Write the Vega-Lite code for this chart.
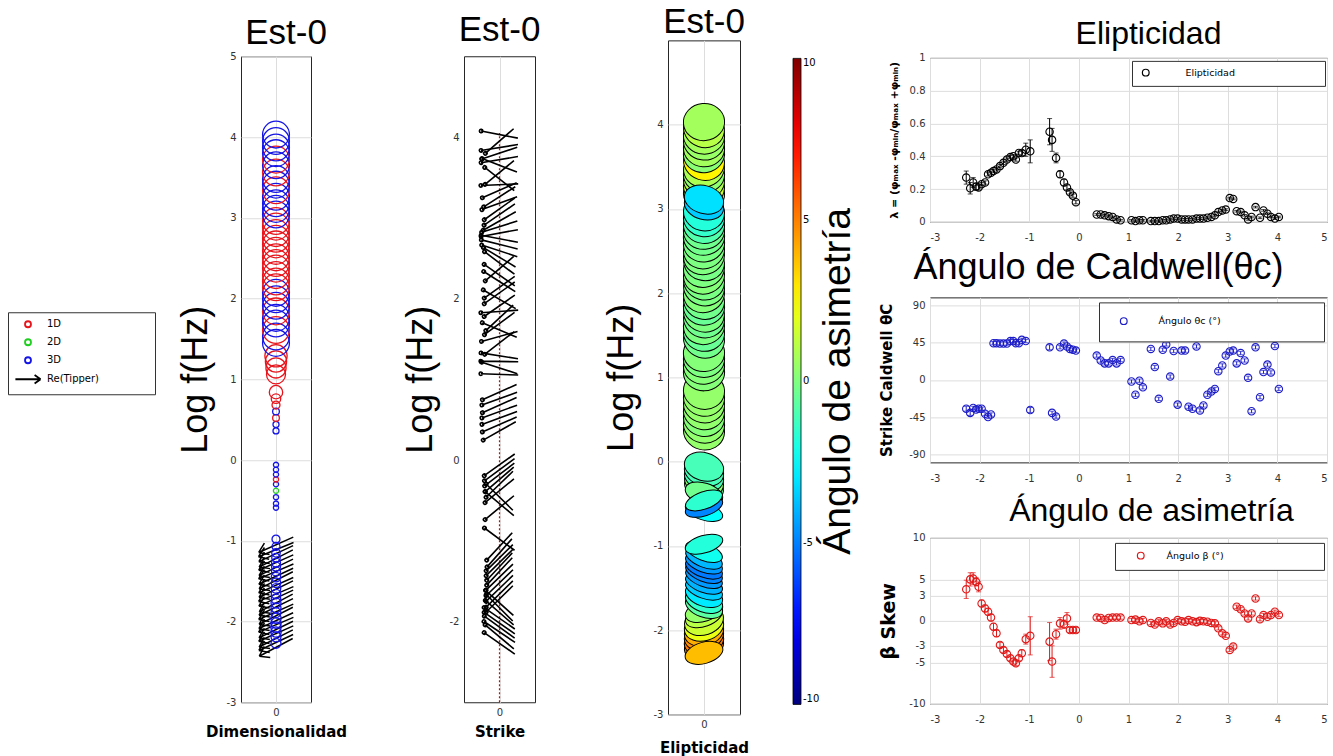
{
"$schema":"https://vega.github.io/schema/vega-lite/v6.json",
"background":"white",
"padding":{"left":7,"top":4,"right":0,"bottom":0},
"config":{
 "font":"DejaVu Sans",
 "view":{"stroke":"#262626","strokeWidth":1},
 "axis":{"labelFont":"DejaVu Sans","labelFontSize":10,"labelColor":"#333333","gridColor":"#dddddd","gridWidth":1,"ticks":false,"domain":false,"labelPadding":5,"titleColor":"#000000"},
 "title":{"font":"Liberation Sans","fontWeight":"normal","color":"#000000","fontSize":35},
 "legend":{"labelFont":"DejaVu Sans","labelColor":"#000000","labelLimit":400},
 "point":{"opacity":1}
},
"datasets":{
 "mt":[
{"p":-2.27,"dim":"3D","amp":0.11,"e":0.27,"eErr":0.04,"s":-35,"sErr":3,"b":3.8,"bErr":1.1},
{"p":-2.19,"dim":"3D","amp":0.11,"e":0.205,"eErr":0.035,"s":-40,"sErr":3,"b":5.0,"bErr":0.8},
{"p":-2.13,"dim":"3D","amp":0.12,"e":0.24,"eErr":0.03,"s":-34,"sErr":2,"b":5.1,"bErr":0.7},
{"p":-2.07,"dim":"3D","amp":0.12,"e":0.215,"eErr":0.02,"s":-36,"sErr":2,"b":4.7,"bErr":0.5},
{"p":-2.02,"dim":"3D","amp":0.12,"e":0.21,"eErr":0.015,"s":-35,"sErr":2,"b":4.1,"bErr":0.6},
{"p":-1.96,"dim":"3D","amp":0.12,"e":0.23,"eErr":0.01,"s":-35,"sErr":2,"b":2.1,"bErr":0.4},
{"p":-1.89,"dim":"3D","amp":0.11,"e":0.24,"eErr":0.01,"s":-41,"sErr":2,"b":1.5,"bErr":0.4},
{"p":-1.83,"dim":"3D","amp":0.11,"e":0.29,"eErr":0.01,"s":-45,"sErr":2,"b":1.1,"bErr":0.4},
{"p":-1.77,"dim":"3D","amp":0.11,"e":0.3,"eErr":0.01,"s":-42,"sErr":2,"b":0.4,"bErr":0.4},
{"p":-1.72,"dim":"3D","amp":0.1,"e":0.31,"eErr":0.01,"s":44.5,"sErr":2,"b":-0.7,"bErr":0.4},
{"p":-1.66,"dim":"3D","amp":0.1,"e":0.32,"eErr":0.01,"s":44.5,"sErr":2,"b":-1.5,"bErr":0.4},
{"p":-1.59,"dim":"3D","amp":0.1,"e":0.34,"eErr":0.01,"s":44,"sErr":2,"b":-2.9,"bErr":0.3},
{"p":-1.52,"dim":"3D","amp":0.1,"e":0.36,"eErr":0.01,"s":44,"sErr":2,"b":-3.5,"bErr":0.3},
{"p":-1.45,"dim":"3D","amp":0.1,"e":0.38,"eErr":0.01,"s":44,"sErr":2,"b":-4.0,"bErr":0.3},
{"p":-1.38,"dim":"3D","amp":0.09,"e":0.395,"eErr":0.01,"s":47,"sErr":2,"b":-4.5,"bErr":0.3},
{"p":-1.32,"dim":"3D","amp":0.09,"e":0.4,"eErr":0.01,"s":47,"sErr":2,"b":-4.9,"bErr":0.3},
{"p":-1.27,"dim":"3D","amp":0.09,"e":0.38,"eErr":0.01,"s":44.5,"sErr":2,"b":-5.1,"bErr":0.3},
{"p":-1.21,"dim":"3D","amp":0.08,"e":0.42,"eErr":0.01,"s":44.5,"sErr":2,"b":-4.5,"bErr":0.3},
{"p":-1.15,"dim":"3D","amp":0.08,"e":0.42,"eErr":0.015,"s":48.5,"sErr":2,"b":-3.9,"bErr":0.4},
{"p":-1.07,"dim":"3D","amp":0.07,"e":0.44,"eErr":0.04,"s":47,"sErr":2,"b":-2.2,"bErr":0.6},
{"p":-0.98,"dim":"3D","amp":0.07,"e":0.43,"eErr":0.07,"s":-36.5,"sErr":3,"b":-1.8,"bErr":2.3},
{"p":-0.59,"dim":"3D","amp":0.03,"e":0.55,"eErr":0.08,"s":39.5,"sErr":3,"b":-2.5,"bErr":2.3},
{"p":-0.54,"dim":"3D","amp":0.03,"e":0.5,"eErr":0.07,"s":-40,"sErr":2,"b":-4.9,"bErr":1.9},
{"p":-0.46,"dim":"3D","amp":0.03,"e":0.39,"eErr":0.03,"s":-44.5,"sErr":2,"b":-1.6,"bErr":0.6},
{"p":-0.38,"dim":"2D","amp":0.03,"e":0.29,"eErr":0.02,"s":39.5,"sErr":2,"b":-0.3,"bErr":0.7},
{"p":-0.3,"dim":"3D","amp":0.03,"e":0.24,"eErr":0.02,"s":44,"sErr":2,"b":-0.4,"bErr":0.5},
{"p":-0.24,"dim":"1D","amp":0.03,"e":0.21,"eErr":0.015,"s":40.5,"sErr":2,"b":0.3,"bErr":0.7},
{"p":-0.18,"dim":"3D","amp":0.03,"e":0.18,"eErr":0.01,"s":37.5,"sErr":2,"b":-1.1,"bErr":0.3},
{"p":-0.12,"dim":"3D","amp":0.03,"e":0.16,"eErr":0.01,"s":36.5,"sErr":2,"b":-1.1,"bErr":0.3},
{"p":-0.06,"dim":"3D","amp":0.03,"e":0.12,"eErr":0.01,"s":35.5,"sErr":2,"b":-1.1,"bErr":0.3},
{"p":0.36,"dim":"3D","amp":0.04,"e":0.045,"eErr":0.005,"s":29.5,"sErr":2,"b":0.4,"bErr":0.2},
{"p":0.44,"dim":"3D","amp":0.04,"e":0.045,"eErr":0.005,"s":23.5,"sErr":2,"b":0.35,"bErr":0.2},
{"p":0.52,"dim":"1D","amp":0.05,"e":0.04,"eErr":0.005,"s":20,"sErr":2,"b":0.1,"bErr":0.2},
{"p":0.6,"dim":"3D","amp":0.05,"e":0.035,"eErr":0.005,"s":20,"sErr":2,"b":0.35,"bErr":0.2},
{"p":0.68,"dim":"1D","amp":0.07,"e":0.03,"eErr":0.005,"s":24,"sErr":2,"b":0.4,"bErr":0.2},
{"p":0.76,"dim":"1D","amp":0.1,"e":0.015,"eErr":0.005,"s":20,"sErr":2,"b":0.4,"bErr":0.2},
{"p":0.84,"dim":"1D","amp":0.2,"e":0.01,"eErr":0.005,"s":24,"sErr":2,"b":0.4,"bErr":0.2},
{"p":1.06,"dim":"1D","amp":0.4,"e":0.01,"eErr":0.005,"s":-2,"sErr":2,"b":0.1,"bErr":0.2},
{"p":1.14,"dim":"1D","amp":0.45,"e":0.005,"eErr":0.005,"s":-18,"sErr":2,"b":0.15,"bErr":0.2},
{"p":1.22,"dim":"1D","amp":0.5,"e":0.01,"eErr":0.005,"s":-1,"sErr":2,"b":-0.05,"bErr":0.2},
{"p":1.29,"dim":"1D","amp":0.55,"e":0.01,"eErr":0.005,"s":-9,"sErr":2,"b":0.1,"bErr":0.2},
{"p":1.45,"dim":"3D","amp":0.8,"e":0.005,"eErr":0.005,"s":37.5,"sErr":2,"b":-0.25,"bErr":0.2},
{"p":1.53,"dim":"3D","amp":0.8,"e":0.005,"eErr":0.005,"s":15.5,"sErr":2,"b":-0.45,"bErr":0.2},
{"p":1.61,"dim":"1D","amp":0.8,"e":0.005,"eErr":0.005,"s":-23,"sErr":2,"b":-0.05,"bErr":0.2},
{"p":1.69,"dim":"3D","amp":0.8,"e":0.01,"eErr":0.005,"s":36.5,"sErr":2,"b":-0.3,"bErr":0.2},
{"p":1.76,"dim":"3D","amp":0.8,"e":0.01,"eErr":0.005,"s":43,"sErr":2,"b":-0.05,"bErr":0.2},
{"p":1.84,"dim":"1D","amp":0.8,"e":0.015,"eErr":0.005,"s":4,"sErr":2,"b":-0.45,"bErr":0.2},
{"p":1.91,"dim":"3D","amp":0.8,"e":0.02,"eErr":0.005,"s":35,"sErr":2,"b":-0.25,"bErr":0.2},
{"p":1.99,"dim":"3D","amp":0.8,"e":0.02,"eErr":0.005,"s":-30,"sErr":2,"b":0.1,"bErr":0.2},
{"p":2.07,"dim":"3D","amp":0.8,"e":0.015,"eErr":0.005,"s":35.5,"sErr":2,"b":-0.05,"bErr":0.2},
{"p":2.14,"dim":"1D","amp":0.8,"e":0.015,"eErr":0.005,"s":35.5,"sErr":2,"b":-0.1,"bErr":0.2},
{"p":2.21,"dim":"1D","amp":0.8,"e":0.015,"eErr":0.005,"s":-32.5,"sErr":2,"b":0.1,"bErr":0.2},
{"p":2.29,"dim":"1D","amp":0.8,"e":0.015,"eErr":0.005,"s":-35,"sErr":2,"b":-0.05,"bErr":0.2},
{"p":2.37,"dim":"1D","amp":0.8,"e":0.02,"eErr":0.005,"s":40.5,"sErr":2,"b":-0.15,"bErr":0.2},
{"p":2.44,"dim":"1D","amp":0.8,"e":0.02,"eErr":0.005,"s":-37,"sErr":2,"b":0,"bErr":0.2},
{"p":2.51,"dim":"1D","amp":0.8,"e":0.02,"eErr":0.005,"s":-31,"sErr":2,"b":-0.05,"bErr":0.2},
{"p":2.59,"dim":"1D","amp":0.8,"e":0.025,"eErr":0.005,"s":-18,"sErr":2,"b":-0.1,"bErr":0.2},
{"p":2.67,"dim":"1D","amp":0.8,"e":0.03,"eErr":0.005,"s":-14,"sErr":2,"b":-0.25,"bErr":0.2},
{"p":2.74,"dim":"1D","amp":0.8,"e":0.04,"eErr":0.005,"s":-11,"sErr":2,"b":-0.3,"bErr":0.2},
{"p":2.81,"dim":"1D","amp":0.8,"e":0.06,"eErr":0.005,"s":10.5,"sErr":2,"b":-0.9,"bErr":0.2},
{"p":2.89,"dim":"1D","amp":0.8,"e":0.07,"eErr":0.005,"s":17.5,"sErr":2,"b":-1.5,"bErr":0.2},
{"p":2.96,"dim":"1D","amp":0.8,"e":0.075,"eErr":0.005,"s":29.5,"sErr":2,"b":-1.8,"bErr":0.2},
{"p":3.04,"dim":"3D","amp":0.8,"e":0.145,"eErr":0.005,"s":34.5,"sErr":2,"b":-3.5,"bErr":0.2},
{"p":3.11,"dim":"3D","amp":0.8,"e":0.14,"eErr":0.005,"s":35.5,"sErr":2,"b":-3.1,"bErr":0.2},
{"p":3.18,"dim":"3D","amp":0.8,"e":0.065,"eErr":0.005,"s":20,"sErr":2,"b":1.7,"bErr":0.2},
{"p":3.26,"dim":"3D","amp":0.8,"e":0.06,"eErr":0.005,"s":32.5,"sErr":2,"b":1.4,"bErr":0.2},
{"p":3.34,"dim":"1D","amp":0.8,"e":0.04,"eErr":0.005,"s":23.5,"sErr":2,"b":0.9,"bErr":0.2},
{"p":3.41,"dim":"3D","amp":0.8,"e":0.015,"eErr":0.005,"s":2.5,"sErr":2,"b":0.3,"bErr":0.2},
{"p":3.48,"dim":"3D","amp":0.8,"e":0.03,"eErr":0.005,"s":-38,"sErr":2,"b":0.9,"bErr":0.2},
{"p":3.56,"dim":"1D","amp":0.8,"e":0.09,"eErr":0.005,"s":39.5,"sErr":2,"b":2.7,"bErr":0.2},
{"p":3.65,"dim":"3D","amp":0.8,"e":0.025,"eErr":0.005,"s":-21,"sErr":2,"b":0.2,"bErr":0.2},
{"p":3.72,"dim":"1D","amp":0.8,"e":0.07,"eErr":0.005,"s":9.5,"sErr":2,"b":0.7,"bErr":0.2},
{"p":3.8,"dim":"3D","amp":0.8,"e":0.05,"eErr":0.005,"s":18.5,"sErr":2,"b":0.5,"bErr":0.2},
{"p":3.87,"dim":"3D","amp":0.8,"e":0.03,"eErr":0.005,"s":9,"sErr":2,"b":0.7,"bErr":0.2},
{"p":3.95,"dim":"3D","amp":0.8,"e":0.02,"eErr":0.005,"s":41,"sErr":2,"b":1.1,"bErr":0.2},
{"p":4.03,"dim":"3D","amp":0.8,"e":0.03,"eErr":0.005,"s":-11,"sErr":2,"b":0.7,"bErr":0.2}
 ],
 "tip":[
{"p":-2.32,"dim":"Re(Tipper)","az":152},{"p":-2.26,"dim":"Re(Tipper)","az":155},{"p":-2.21,"dim":"Re(Tipper)","az":153},{"p":-2.15,"dim":"Re(Tipper)","az":156},
{"p":-2.1,"dim":"Re(Tipper)","az":154},{"p":-2.04,"dim":"Re(Tipper)","az":157},{"p":-1.99,"dim":"Re(Tipper)","az":155},{"p":-1.93,"dim":"Re(Tipper)","az":153},
{"p":-1.88,"dim":"Re(Tipper)","az":156},{"p":-1.82,"dim":"Re(Tipper)","az":154},{"p":-1.77,"dim":"Re(Tipper)","az":152},{"p":-1.71,"dim":"Re(Tipper)","az":155},
{"p":-1.66,"dim":"Re(Tipper)","az":157},{"p":-1.6,"dim":"Re(Tipper)","az":154},{"p":-1.55,"dim":"Re(Tipper)","az":156},{"p":-1.49,"dim":"Re(Tipper)","az":153},
{"p":-1.44,"dim":"Re(Tipper)","az":155},{"p":-1.38,"dim":"Re(Tipper)","az":157},{"p":-1.33,"dim":"Re(Tipper)","az":154},{"p":-1.27,"dim":"Re(Tipper)","az":156},
{"p":-1.22,"dim":"Re(Tipper)","az":153},{"p":-1.16,"dim":"Re(Tipper)","az":155},{"p":-1.11,"dim":"Re(Tipper)","az":158},{"p":-1.05,"dim":"Re(Tipper)","az":156}
 ]
},
"spacing":61,
"center":true,
"resolve":{"scale":{"color":"independent","shape":"independent","size":"independent","angle":"independent"},"legend":{"color":"independent","shape":"independent","size":"independent"}},
"hconcat":[
 {
  "spacing":153,"bounds":"flush",
  "resolve":{"scale":{"color":"independent","shape":"independent","size":"independent","angle":"independent"},"legend":{"color":"independent","shape":"independent","size":"independent"}},
  "hconcat":[
   {
    "width":70,"height":646,
    "title":{"text":"Est-0","dx":10,"offset":0},
    "layer":[
     {"data":{"name":"tip"},
      "mark":{"type":"point","filled":false,"strokeWidth":1.5},
      "encoding":{
       "x":{"datum":0,"type":"quantitative","scale":{"domain":[-1,1],"nice":false},"axis":{"values":[0],"title":"Dimensionalidad","titleFont":"DejaVu Sans","titleFontWeight":"bold","titleFontSize":15,"titlePadding":7,"grid":true}},
       "y":{"field":"p","type":"quantitative","scale":{"domain":[-3,5],"nice":false},"axis":{"values":[-3,-2,-1,0,1,2,3,4,5],"labelExpr":"datum.value","title":"Log f(Hz)","titleFont":"Liberation Sans","titleFontWeight":"normal","titleFontSize":36,"titlePadding":12}},
       "color":{"field":"dim","type":"nominal","scale":{"domain":["1D","2D","3D","Re(Tipper)"],"range":["#e8141b","#1fcf1f","#1414e6","#000000"]},
        "legend":{"title":null,"orient":"none","direction":"vertical","legendX":-233,"legendY":256,"strokeColor":"#333333","fillColor":"#ffffff","padding":7,"symbolSize":36,"symbolStrokeWidth":1.8,"symbolOffset":8,"labelOffset":14,"labelFontSize":10,"rowPadding":4,
         "labelExpr":"datum.label == 'Re(Tipper)' ? datum.label + '\u00a0\u00a0\u00a0\u00a0\u00a0\u00a0\u00a0\u00a0\u00a0\u00a0\u00a0\u00a0\u00a0\u2800' : datum.label"}},
       "shape":{"field":"dim","type":"nominal","scale":{"domain":["1D","2D","3D","Re(Tipper)"],"range":["circle","circle","circle","M-4.2,0L4.2,0M4.2,0L2.2,-1.4M4.2,0L2.2,1.4"]}},
       "angle":{"field":"az","type":"quantitative","scale":{"domain":[0,360],"range":[0,360]}},
       "size":{"value":81}
      }},
     {"data":{"name":"mt"},
      "mark":{"type":"point","filled":false,"strokeWidth":1.3},
      "encoding":{
       "x":{"datum":0,"type":"quantitative","scale":{"domain":[-1,1],"nice":false},"axis":{"values":[0],"title":"Dimensionalidad","titleFont":"DejaVu Sans","titleFontWeight":"bold","titleFontSize":15,"titlePadding":7,"grid":true}},
       "y":{"field":"p","type":"quantitative","scale":{"domain":[-3,5],"nice":false},"axis":{"values":[-3,-2,-1,0,1,2,3,4,5],"labelExpr":"datum.value","title":"Log f(Hz)","titleFont":"Liberation Sans","titleFontWeight":"normal","titleFontSize":36,"titlePadding":12}},
       "color":{"field":"dim","type":"nominal"},
       "shape":{"field":"dim","type":"nominal"},
       "size":{"field":"amp","type":"quantitative","scale":{"domain":[0,1],"range":[0,900]},"legend":null}
      }}
    ]
   },
   {
    "width":71,"height":646,
    "title":{"text":"Est-0","offset":8},
    "layer":[
     {"data":{"values":[{"k":1}]},
      "mark":{"type":"rule","color":"#e00000","stroke":"#e00000","strokeDash":[2,2],"strokeWidth":1.2},
      "encoding":{"x":{"datum":0,"type":"quantitative"},"y":{"datum":-3,"type":"quantitative"},"y2":{"datum":4.05}}},
     {"data":{"name":"mt"},
      "mark":{"type":"point","filled":false,"shape":"M-1,0L1,0M-1.09,0A0.09,0.09 0 1,0 -0.91,0A0.09,0.09 0 1,0 -1.09,0","strokeWidth":1.6,"color":"#000000","size":1400},
      "encoding":{
       "x":{"datum":0,"type":"quantitative","scale":{"domain":[-1,1],"nice":false},"axis":{"values":[0],"title":"Strike","titleFont":"DejaVu Sans","titleFontWeight":"bold","titleFontSize":15,"titlePadding":7,"grid":true}},
       "y":{"field":"p","type":"quantitative","scale":{"domain":[-3,5],"nice":false},"axis":{"values":[-2,0,2,4],"labelExpr":"datum.value","title":"Log f(Hz)","titleFont":"Liberation Sans","titleFontWeight":"normal","titleFontSize":36,"titlePadding":10}},
       "angle":{"field":"s","type":"quantitative","scale":{"domain":[-90,90],"range":[90,-90]}}
      }}
    ]
   }
  ]
 },
 {
  "spacing":19,"center":true,
  "resolve":{"scale":{"color":"independent","shape":"independent","size":"independent","angle":"independent"},"legend":{"color":"independent","shape":"independent","size":"independent"}},
  "hconcat":[
   {
    "width":72,"height":674,
    "title":{"text":"Est-0","offset":0},
    "data":{"name":"mt"},
    "encoding":{
     "x":{"datum":0,"type":"quantitative","scale":{"domain":[-1,1],"nice":false},"axis":{"values":[0],"title":"Elipticidad","titleFont":"DejaVu Sans","titleFontWeight":"bold","titleFontSize":15,"titlePadding":11,"grid":true}},
     "y":{"field":"p","type":"quantitative","scale":{"domain":[-3,5],"nice":false},"axis":{"values":[-3,-2,-1,0,1,2,3,4],"labelExpr":"datum.value","title":"Log f(Hz)","titleFont":"Liberation Sans","titleFontWeight":"normal","titleFontSize":36,"titlePadding":13}},
     "color":{"field":"b","type":"quantitative","scale":{"domain":[-10,-7.5,-2.5,2.5,7.5,10],"range":["#00007f","#0000ff","#00ffff","#ffff00","#ff0000","#7f0000"],"interpolate":"rgb"},
      "legend":{"orient":"none","legendX":125,"legendY":18,"direction":"vertical","padding":0,"gradientLength":646,"gradientThickness":8,"gradientStrokeColor":"#000000","gradientStrokeWidth":0.8,"values":[-10,-5,0,5,10],"labelExpr":"datum.value","labelFontSize":10,
       "title":"Ángulo de asimetría","titleOrient":"right","titleAnchor":"middle","titleFont":"Liberation Sans","titleFontWeight":"normal","titleFontSize":39,"titleLimit":900,"titlePadding":0,
       "encode":{"title":{"update":{"angle":{"value":270},"baseline":{"value":"top"}}}}}},
     "angle":{"field":"s","type":"quantitative","scale":{"domain":[-90,90],"range":[-40,40]}}
    },
    "layer":[
     {"transform":[{"filter":{"field":"e","lt":0.1}}],
      "mark":{"type":"point","filled":true,"stroke":"#000000","strokeWidth":1,"size":1700,"shape":"M-1,0A1,0.9 0 1,1 1,0A1,0.9 0 1,1 -1,0Z"}},
     {"transform":[{"filter":{"and":[{"field":"e","gte":0.1},{"field":"e","lt":0.25}]}}],
      "mark":{"type":"point","filled":true,"stroke":"#000000","strokeWidth":1,"size":1600,"shape":"M-1,0A1,0.7 0 1,1 1,0A1,0.7 0 1,1 -1,0Z"}},
     {"transform":[{"filter":{"and":[{"field":"e","gte":0.25},{"field":"e","lt":0.35}]}}],
      "mark":{"type":"point","filled":true,"stroke":"#000000","strokeWidth":1,"size":1500,"shape":"M-1,0A1,0.55 0 1,1 1,0A1,0.55 0 1,1 -1,0Z"}},
     {"transform":[{"filter":{"field":"e","gte":0.35}}],
      "mark":{"type":"point","filled":true,"stroke":"#000000","strokeWidth":1,"size":1500,"shape":"M-1,0A1,0.45 0 1,1 1,0A1,0.45 0 1,1 -1,0Z"}}
    ]
   },
   {
    "spacing":75.5,"bounds":"flush",
    "resolve":{"scale":{"color":"independent"},"legend":{"color":"independent"}},
    "vconcat":[
     {
      "width":397,"height":164,
      "title":{"text":"Elipticidad","fontSize":32,"dx":20,"offset":2},
      "data":{"name":"mt"},
      "encoding":{
       "x":{"field":"p","type":"quantitative","scale":{"domain":[-3,5],"nice":false},"axis":{"values":[-3,-2,-1,0,1,2,3,4,5],"labelExpr":"datum.value","labelPadding":11,"title":"Ángulo  de Caldwell(θc)","titleFont":"Liberation Sans","titleFontWeight":"normal","titleFontSize":36,"titlePadding":8,"titleX":168}},
       "y":{"field":"e","type":"quantitative","scale":{"domain":[0,1],"nice":false},"axis":{"values":[0,0.2,0.4,0.6,0.8,1],"labelExpr":"datum.value","title":"λ = (φₘₐₓ -φₘᵢₙ/φₘₐₓ +φₘᵢₙ)","titleFont":"DejaVu Sans","titleFontWeight":"bold","titleFontSize":11,"titlePadding":10}}
      },
      "layer":[
       {"mark":{"type":"errorbar","ticks":true,"color":"#000000"},"encoding":{"yError":{"field":"eErr"}}},
       {"mark":{"type":"point","filled":false,"size":55,"strokeWidth":1.1,"opacity":1},
        "encoding":{"color":{"datum":"Elipticidad","type":"nominal","scale":{"range":["#000000"]},
         "legend":{"title":null,"orient":"none","legendX":202,"legendY":3,"strokeColor":"#333333","fillColor":"#ffffff","padding":7,"symbolSize":45,"symbolStrokeWidth":1.2,"symbolOffset":2,"labelOffset":35,"labelFontSize":9.5,
          "labelExpr":"datum.label + '\u00a0\u00a0\u00a0\u00a0\u00a0\u00a0\u00a0\u00a0\u00a0\u00a0\u00a0\u00a0\u00a0\u00a0\u00a0\u00a0\u00a0\u00a0\u00a0\u00a0\u00a0\u00a0\u00a0\u00a0\u00a0\u2800'"}}}}
      ]
     },
     {
      "width":397,"height":165,
      "data":{"name":"mt"},
      "encoding":{
       "x":{"field":"p","type":"quantitative","scale":{"domain":[-3,5],"nice":false},"axis":{"values":[-3,-2,-1,0,1,2,3,4,5],"labelExpr":"datum.value","labelPadding":11,"title":null}},
       "y":{"field":"s","type":"quantitative","scale":{"domain":[-100,100],"nice":false},"axis":{"values":[-90,-45,0,45,90],"labelExpr":"datum.value","title":"Strike Caldwell θC","titleFont":"DejaVu Sans","titleFontWeight":"bold","titleFontSize":15,"titlePadding":14}}
      },
      "layer":[
       {"mark":{"type":"errorbar","ticks":true,"color":"#1c1cc8"},"encoding":{"yError":{"field":"sErr"}}},
       {"mark":{"type":"point","filled":false,"size":55,"strokeWidth":1.1,"opacity":1},
        "encoding":{"color":{"datum":"Ángulo θc (°)","type":"nominal","scale":{"range":["#1c1cc8"]},
         "legend":{"title":null,"orient":"none","legendX":169,"legendY":5,"strokeColor":"#333333","fillColor":"#ffffff","padding":14,"symbolSize":45,"symbolStrokeWidth":1.2,"symbolOffset":6,"labelOffset":30,"labelFontSize":9.5,
          "labelExpr":"datum.label + '\u00a0\u00a0\u00a0\u00a0\u00a0\u00a0\u00a0\u00a0\u00a0\u00a0\u00a0\u00a0\u00a0\u00a0\u00a0\u00a0\u00a0\u00a0\u00a0\u00a0\u00a0\u00a0\u00a0\u00a0\u00a0\u00a0\u00a0\u2800'"}}}}
      ]
     },
     {
      "width":397,"height":166,
      "title":{"text":"Ángulo de asimetría","fontSize":32,"dx":23,"offset":5},
      "data":{"name":"mt"},
      "encoding":{
       "x":{"field":"p","type":"quantitative","scale":{"domain":[-3,5],"nice":false},"axis":{"values":[-3,-2,-1,0,1,2,3,4,5],"labelExpr":"datum.value","labelPadding":11,"title":"\u2800","titleFontSize":11,"titlePadding":2}},
       "y":{"field":"b","type":"quantitative","scale":{"domain":[-10,10],"nice":false},"axis":{"values":[-10,-5,-3,0,3,5,10],"labelExpr":"datum.value","title":"β Skew","titleFont":"DejaVu Sans","titleFontWeight":"bold","titleFontSize":19,"titlePadding":10}}
      },
      "layer":[
       {"mark":{"type":"errorbar","ticks":true,"color":"#e01818"},"encoding":{"yError":{"field":"bErr"}}},
       {"mark":{"type":"point","filled":false,"size":55,"strokeWidth":1.1,"opacity":1},
        "encoding":{"color":{"datum":"Ángulo β (°)","type":"nominal","scale":{"range":["#e01818"]},
         "legend":{"title":null,"orient":"none","legendX":185,"legendY":5,"strokeColor":"#333333","fillColor":"#ffffff","padding":8,"symbolSize":45,"symbolStrokeWidth":1.2,"symbolOffset":13,"labelOffset":21,"labelFontSize":9.5,
          "labelExpr":"datum.label + '\u00a0\u00a0\u00a0\u00a0\u00a0\u00a0\u00a0\u00a0\u00a0\u00a0\u00a0\u00a0\u00a0\u00a0\u00a0\u00a0\u00a0\u00a0\u00a0\u00a0\u00a0\u00a0\u00a0\u00a0\u00a0\u00a0\u00a0\u00a0\u2800'"}}}}
      ]
     }
    ]
   }
  ]
 }
]
}
